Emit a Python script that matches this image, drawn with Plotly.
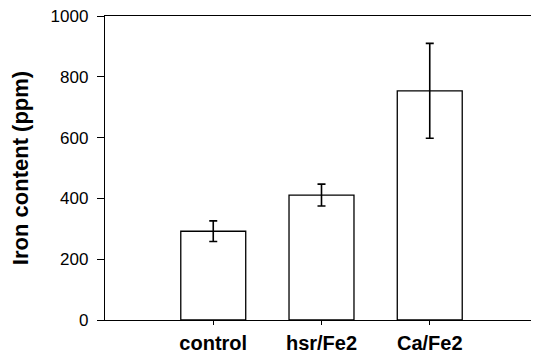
import plotly.graph_objects as go

categories = ["control", "hsr/Fe2", "Ca/Fe2"]
iron_ppm = [292, 411, 754]
iron_err = [34, 36, 156]
y_ticks = [0, 200, 400, 600, 800, 1000]

FONT = "Liberation Sans, Arial, sans-serif"

fig = go.Figure()
fig.add_trace(go.Bar(
    x=categories, y=iron_ppm, width=0.6,
    marker=dict(color="white", line=dict(color="black", width=1.3)),
    error_y=dict(type="data", array=iron_err, visible=True,
                 color="black", thickness=1.6, width=4),
))
# page body has an 8px margin; size the figure to fill the rest of the window
fig.update_layout(
    width=531, height=351,
    margin=dict(l=97, r=1, t=8, b=39),
    paper_bgcolor="white", plot_bgcolor="white",
    showlegend=False,
    font=dict(family=FONT, color="black"),
)
fig.update_xaxes(
    type="category", range=[-1, 3], automargin=False,
    showline=True, linecolor="black", linewidth=1.3, mirror=True,
    ticks="outside", ticklen=4, tickcolor="black", tickwidth=1,
    ticklabelstandoff=1,
    tickfont=dict(size=20, family=FONT, weight="bold"),
    showgrid=False, zeroline=False,
)
fig.update_yaxes(
    range=[0, 1000], tickvals=y_ticks, automargin=False,
    showline=True, linecolor="black", linewidth=1.3, mirror=True,
    ticks="outside", ticklen=7, tickcolor="black", tickwidth=1.3,
    ticklabelstandoff=5, ticklabeloverflow="allow",
    tickfont=dict(size=17),
    title=dict(text="Iron content (ppm)", standoff=27,
               font=dict(size=22, family=FONT, weight="bold")),
    showgrid=False, zeroline=False,
)
fig.write_html("out.html")
